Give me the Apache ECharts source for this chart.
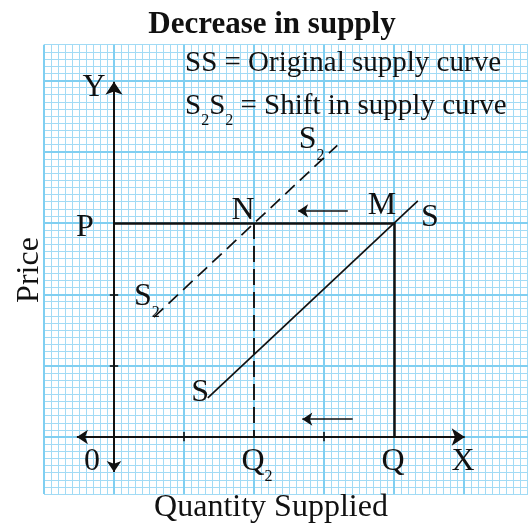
<!DOCTYPE html>
<html>
<head>
<meta charset="utf-8">
<script src="https://cdn.jsdelivr.net/npm/echarts@6/dist/echarts.min.js"></script>
<style>
html,body{margin:0;padding:0;background:#fff;}
#container{width:528px;height:524px;}
</style>
</head>
<body>
<div id="container"></div>
<script>
// chart values, in major grid units (one big square = 1)
var xRange = [-1, 5.914];
var yRange = [-0.8, 5.5];
var majorX = [-1, 0, 1, 2, 3, 4, 5];
var majorY = [0, 1, 2, 3, 4, 5];
var xTicks = [1, 3];
var yTicks = [1, 2];
var ssLine = [[1.34, 0.55], [4.34, 3.31]];
var s2Line = [[0.57, 1.68], [3.19, 4.09]];
var priceLine = [[0, 3], [4, 3]];
var qLine = [[4, 3], [4, 0]];
var q2Line = [[2, 3], [2, 0]];
var xAxisLine = [[-0.53, 0], [5.01, 0]];
var yAxisLine = [[0, -0.49], [0, 4.98]];
var shiftArrows = [[[3.34, 3.17], [2.63, 3.17]], [[3.41, 0.25], [2.69, 0.25]]];
var letters = [['Y', -0.286, 4.893], ['P', -0.414, 2.93], ['N', 1.843, 3.17], ['M', 3.829, 3.24],
	['S', 4.514, 3.07], ['S', 1.229, 0.62], ['0', -0.314, -0.35], ['Q', 3.986, -0.35], ['X', 4.986, -0.35]];
var subLetters = [['S', 2.64, 4.39], ['S', 0.286, 2.19], ['Q', 1.82, -0.115]];

var serif = 'Liberation Serif';
var ink = '#111';
var minorCol = '#a2dbf5';
var majorCol = '#80cff1';

function seg(list, width, dash, symbol, symbolSize, color, z){
	return {
		type:'lines', coordinateSystem:'cartesian2d', silent:true, z:z || 3, animation:false,
		symbol:symbol || 'none', symbolSize:symbolSize || 10,
		lineStyle:{color:color || ink, width:width, type:dash || 'solid', opacity:1, curveness:0},
		data:list.map(function(c){ return {coords:c}; })
	};
}

var tickSegs = [];
for (var i = 0; i < xTicks.length; i++) {
	tickSegs.push([[xTicks[i], -0.06], [xTicks[i], 0.07]]);
}
for (var j = 0; j < yTicks.length; j++) {
	tickSegs.push([[-0.06, yTicks[j]], [0.06, yTicks[j]]]);
}

var majorSegs = [];
majorX.forEach(function(v){ majorSegs.push([[v, yRange[0]], [v, yRange[1]]]); });
majorY.forEach(function(v){ majorSegs.push([[xRange[0], v], [xRange[1], v]]); });

var richSub = {
	m:{fontFamily:serif, fontSize:32, lineHeight:34, color:ink, verticalAlign:'top', textBorderWidth:0},
	s:{fontFamily:serif, fontSize:16, lineHeight:16, color:ink, verticalAlign:'top', padding:[24,0,0,0], textBorderWidth:0}
};

var series = [
	seg(majorSegs, 2, 'solid', 'none', 0, majorCol, 1),
	seg([xAxisLine, yAxisLine], 2, 'solid', ['arrow', 'arrow'], [11, 13]),
	seg([priceLine, qLine], 2.5),
	seg([q2Line], 1.9, [16, 7]),
	seg([ssLine], 1.7),
	seg([s2Line], 1.7, [13, 7]),
	seg(tickSegs, 1.6),
	seg(shiftArrows, 1.6, 'solid', ['none', 'arrow'], [8, 10])
];
series.push({
	type:'scatter', symbolSize:0, silent:true, z:5, animation:false,
	itemStyle:{opacity:1},
	data:letters.map(function(l){ return [l[1], l[2], l[0]]; }),
	label:{show:true, position:[0, 0], align:'center', verticalAlign:'middle',
		fontFamily:serif, fontSize:32, color:ink, textBorderWidth:0, opacity:1,
		formatter:function(p){ return p.data[2]; }}
});
series.push({
	type:'scatter', symbolSize:0, silent:true, z:5, animation:false,
	itemStyle:{opacity:1},
	data:subLetters.map(function(l){ return [l[1], l[2], l[0]]; }),
	label:{show:true, position:[0, 0], align:'left', verticalAlign:'top', rich:richSub,
		textBorderWidth:0, opacity:1,
		formatter:function(p){ return '{m|' + p.data[2] + '}{s|2}'; }}
});

var myChart = echarts.init(document.getElementById('container'));
var option = {
	animation:false,
	backgroundColor:'#fff',
	grid:{left:44, right:0, top:44.7, bottom:29.9},
	xAxis:{type:'value', min:xRange[0], max:xRange[1], interval:0.1,
		axisLine:{show:false}, axisTick:{show:false}, axisLabel:{show:false},
		splitLine:{show:true, lineStyle:{color:minorCol, width:1}}},
	yAxis:{type:'value', min:yRange[0], max:yRange[1], interval:0.1,
		axisLine:{show:false}, axisTick:{show:false}, axisLabel:{show:false},
		splitLine:{show:true, lineStyle:{color:minorCol, width:1}}},
	graphic:[
		{type:'text', x:272, y:25, z:10, style:{text:'Decrease in supply', fontFamily:serif, fontWeight:'bold',
			fontSize:31, fill:ink, align:'center', verticalAlign:'middle'}},
		{type:'text', x:185, y:63, z:10, style:{text:'SS = Original supply curve', fontFamily:serif,
			fontSize:29, fill:ink, align:'left', verticalAlign:'middle'}},
		{type:'text', x:185, y:92, z:10, style:{text:'{m|S}{s|2}{m|S}{s|2}{m| = Shift in supply curve}',
			align:'left', verticalAlign:'top',
			rich:{m:{fontFamily:serif, fontSize:29, lineHeight:30, fill:ink, verticalAlign:'top'},
				s:{fontFamily:serif, fontSize:16, lineHeight:16, fill:ink, verticalAlign:'top', padding:[21,0,0,0]}}}},
		{type:'text', x:30, y:270, rotation:Math.PI/2, z:10, style:{text:'Price', fontFamily:serif,
			fontSize:32, fill:ink, align:'center', verticalAlign:'middle'}},
		{type:'text', x:271, y:508, z:10, style:{text:'Quantity Supplied', fontFamily:serif,
			fontSize:32, fill:ink, align:'center', verticalAlign:'middle'}}
	],
	series:series
};
myChart.setOption(option, true);
</script>
</body>
</html>
